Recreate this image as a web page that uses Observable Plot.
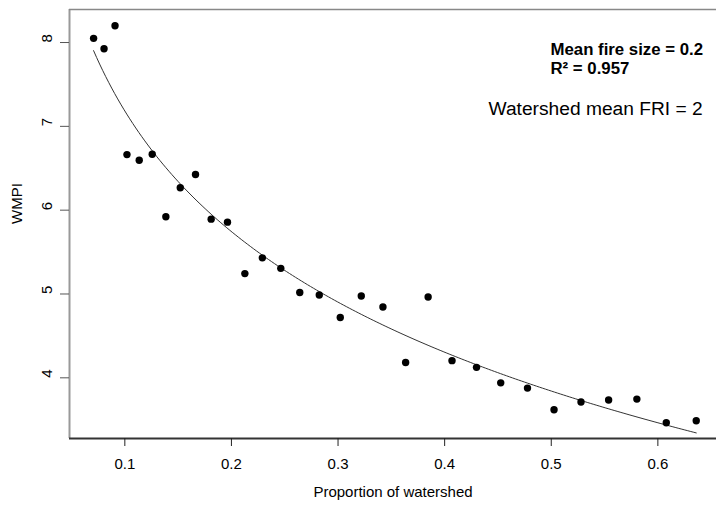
<!DOCTYPE html>
<html>
<head>
<meta charset="utf-8">
<script src="https://cdn.jsdelivr.net/npm/d3@7"></script>
<script src="https://cdn.jsdelivr.net/npm/@observablehq/plot@0.6"></script>
<style>
  html, body { margin: 0; padding: 0; background: #fff; }
</style>
</head>
<body>
<div id="chart"></div>
<script>
// Proportion of watershed (x) and WMPI (y)
const proportion = [0.0707, 0.0805, 0.0908, 0.102, 0.1135, 0.1257, 0.1385, 0.152, 0.1663, 0.181,
  0.1963, 0.2126, 0.229, 0.2463, 0.2641, 0.2824, 0.3021, 0.3218, 0.3421, 0.3634,
  0.3845, 0.4069, 0.4299, 0.4526, 0.4777, 0.5026, 0.5279, 0.5538, 0.5803, 0.6079, 0.636];
const wmpi = [8.05, 7.925, 8.2, 6.663, 6.595, 6.667, 5.921, 6.267, 6.425, 5.893,
  5.857, 5.243, 5.431, 5.306, 5.017, 4.988, 4.719, 4.976, 4.845, 4.183,
  4.964, 4.205, 4.125, 3.94, 3.877, 3.619, 3.711, 3.735, 3.746, 3.464, 3.488];
const xTicks = [0.1, 0.2, 0.3, 0.4, 0.5, 0.6];
const yTicks = [4, 5, 6, 7, 8];
const xTitle = "Proportion of watershed";
const yTitle = "WMPI";
const note1 = "Mean fire size = 0.2";
const note2 = "R\u00B2 = 0.957";
const note3 = "Watershed mean FRI = 2";

const points = proportion.map((x, i) => ({x, y: wmpi[i]}));

// logarithmic least-squares fit y = a + b ln(x)
const lx = proportion.map(Math.log);
const mx = d3.mean(lx), my = d3.mean(wmpi);
const b = d3.sum(lx.map((v, i) => (v - mx) * (wmpi[i] - my))) / d3.sum(lx.map(v => (v - mx) ** 2));
const a = my - b * mx;
const [x0, x1] = d3.extent(proportion);
const fit = d3.range(0, 201).map(i => {
  const x = x0 + (x1 - x0) * i / 200;
  return {x, y: a + b * Math.log(x)};
});

const xDomain = [0.0481, 0.655];
const yDomain = [3.276, 8.394];

const chart = Plot.plot({
  width: 716,
  height: 508,
  marginLeft: 69,
  marginTop: 9,
  marginRight: 0,
  marginBottom: 70,
  style: {fontFamily: "'Liberation Sans', Arial, sans-serif", fontSize: "15px", background: "#fff", color: "#000"},
  x: {domain: xDomain},
  y: {domain: yDomain},
  marks: [
    Plot.line(fit, {x: "x", y: "y", stroke: "#333", strokeWidth: 1}),
    Plot.dot(points, {x: "x", y: "y", r: 3.7, fill: "#000", stroke: "none"}),
    Plot.ruleX([xDomain[0]], {stroke: "#999", strokeWidth: 2}),
    Plot.ruleY([yDomain[1]], {stroke: "#888", strokeWidth: 1.5}),
    Plot.ruleY([yDomain[0]], {stroke: "#333", strokeWidth: 2}),
    Plot.axisX(xTicks, {tickSize: 8, tickPadding: 12, tickFormat: d => d.toFixed(1), label: null, fontSize: 15, stroke: "#222"}),
    Plot.axisY(yTicks, {tickSize: 9, tickFormat: () => "", label: null, stroke: "#555"}),
    Plot.text(yTicks, {y: d => d, text: d => String(d), frameAnchor: "left", dx: -22, rotate: -90, fontSize: 15}),
    Plot.text([yTitle], {text: d => d, frameAnchor: "left", dx: -52, rotate: -90, fontSize: 15}),
    Plot.text([xTitle], {text: d => d, frameAnchor: "bottom", dy: 58, fontSize: 15}),
    Plot.text([note1], {text: d => d, frameAnchor: "top-left", textAnchor: "start", lineAnchor: "bottom", dx: 481, dy: 45.3, fontSize: 16.8, fontWeight: "bold"}),
    Plot.text([note2], {text: d => d, frameAnchor: "top-left", textAnchor: "start", lineAnchor: "bottom", dx: 481, dy: 64.3, fontSize: 16.8, fontWeight: "bold"}),
    Plot.text([note3], {text: d => d, frameAnchor: "top-left", textAnchor: "start", lineAnchor: "bottom", dx: 419, dy: 105.3, fontSize: 19.2})
  ]
});
document.getElementById("chart").appendChild(chart);
</script>
</body>
</html>
